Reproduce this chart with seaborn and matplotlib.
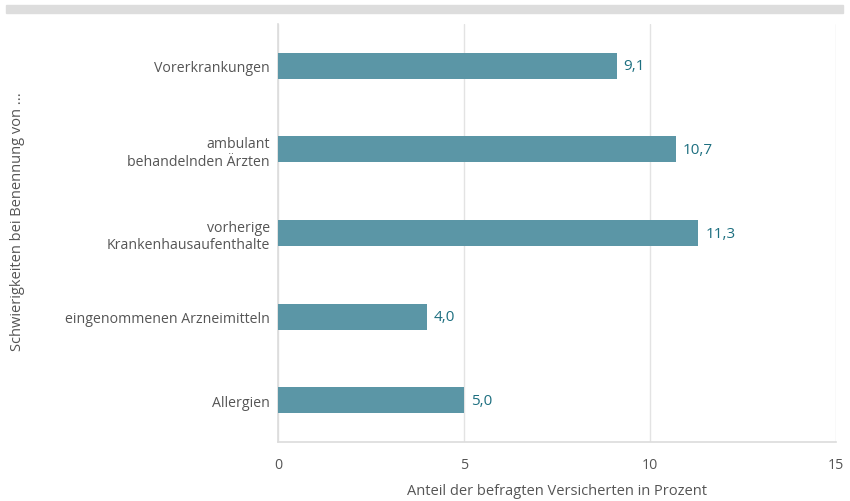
import pandas as pd
import seaborn as sns
import numpy as np
import matplotlib.pyplot as plt
from matplotlib.patches import Rectangle

kategorien = ['Vorerkrankungen', 'ambulant\nbehandelnden Ärzten', 'vorherige\nKrankenhausaufenthalte',
              'eingenommenen Arzneimitteln', 'Allergien']
werte = [9.1, 10.7, 11.3, 4.0, 5.0]
x_ticks = [0, 5, 10, 15]

datos = pd.DataFrame({'Kategorie': kategorien, 'Anteil': werte})

sns.set_theme(style='white')
plt.rcParams['font.family'] = ['Open Sans', 'DejaVu Sans']

fig = plt.figure(figsize=(8.5, 5.02), dpi=100)
ax = fig.add_axes([278 / 850, 1 - 443 / 502, (836 - 278) / 850, (443 - 25) / 502])

sns.barplot(data=datos, x='Anteil', y='Kategorie', color='#5b96a6', width=0.31,
            saturation=1, linewidth=0, ax=ax, zorder=3)

# Werte neben den Balken
for i, v in enumerate(werte):
    ax.annotate(f'{v:.1f}'.replace('.', ','), (v, i), xytext=(5, 0), textcoords='offset points',
                va='center', ha='left', fontsize=11, color='#1d6f80')

ax.set_xlim(0, 15)
ax.set_ylim(4.5, -0.5)
ax.set_xticks(x_ticks)
ax.grid(axis='x', color='#e3e3e3', linewidth=1, zorder=0)
for s in ['top', 'right']:
    ax.spines[s].set_visible(False)
ax.spines['left'].set_color('#dcdcdc')
ax.spines['bottom'].set_color('#dcdcdc')
ax.spines['left'].set_linewidth(1.2)
ax.spines['bottom'].set_linewidth(1.2)
ax.tick_params(axis='both', length=0, labelsize=10.2, labelcolor='#555555')
ax.tick_params(axis='x', pad=11)
ax.tick_params(axis='y', pad=6)

ax.set_xlabel('Anteil der befragten Versicherten in Prozent', fontsize=10.5, color='#555555', labelpad=8)
ax.set_ylabel('')
fig.text(18 / 850, 1 - 222 / 502, 'Schwierigkeiten bei Benennung von ...', rotation=90,
         ha='center', va='center', fontsize=10.5, color='#555555')

# grauer Balken oben
fig.patches.append(Rectangle((6 / 850, 1 - 14 / 502), 837 / 850, 8 / 502,
                             transform=fig.transFigure, color='#dddddd', zorder=0))

plt.savefig('out.png', dpi=100)
plt.close()
